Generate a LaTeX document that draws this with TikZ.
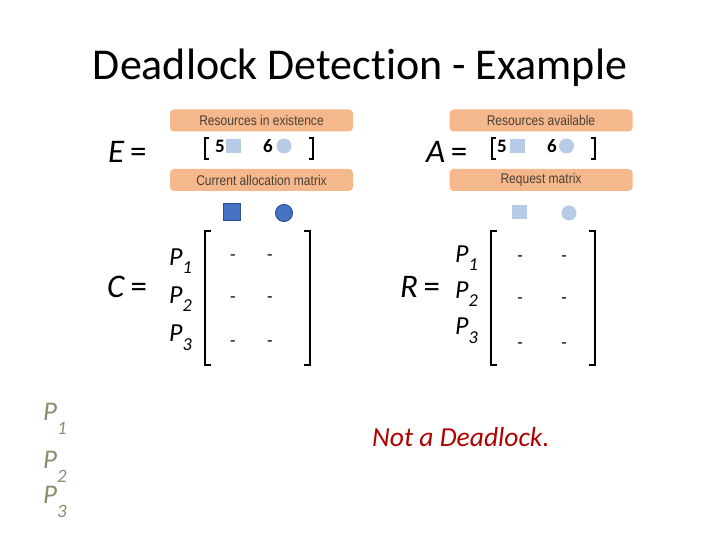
\documentclass[tikz,border=0pt]{standalone}
\usepackage{fontspec}
\setmainfont{Carlito}[Ligatures=NoCommon]
\newfontfamily\tagfont{Liberation Sans}[FakeStretch=0.86]
\usetikzlibrary{positioning,calc}
\definecolor{tagorange}{HTML}{F5B88C}
\definecolor{tagtext}{HTML}{4A3F35}
\definecolor{reslight}{HTML}{B7CAE6}
\definecolor{resdark}{HTML}{4472C4}
\definecolor{resedge}{HTML}{2F528F}
\definecolor{procgrey}{HTML}{8E8C6E}
\definecolor{verdict}{HTML}{B00000}
\tikzset{  tag/.style={fill=tagorange,rounded corners=4pt,minimum width=183pt,minimum height=22pt,inner sep=0pt,text=tagtext,font=\tagfont\fontsize{14}{14}\selectfont},
  eqn/.style={font=\fontsize{33}{33}\selectfont,inner sep=0pt},
  proc/.style={font=\fontsize{26}{26}\selectfont\itshape,inner sep=0pt},
  cnt/.style={font=\fontsize{19}{19}\selectfont\bfseries,inner sep=0pt},
  entry/.style={font=\fontsize{18}{18}\selectfont,inner sep=0pt},
  sqlight/.style={fill=reslight,minimum width=15pt,minimum height=14pt,inner sep=0pt},
  dotlight/.style={circle,fill=reslight,minimum size=15pt,inner sep=0pt},
  sqdark/.style={fill=resdark,draw=resedge,line width=1pt,minimum size=17pt,inner sep=0pt},
  dotdark/.style={circle,fill=resdark,draw=resedge,line width=1pt,minimum size=17pt,inner sep=0pt},
  brk/.style={line width=2pt} }
\newcommand{\Pn}[1]{P\textsubscript{\raisebox{-0.25em}{#1}}}
\newcommand{\Pg}[1]{P\textsubscript{\raisebox{-0.55em}{#1}}}

\begin{document}
\begin{tikzpicture}[x=1pt,y=-1pt]
    \useasboundingbox (0,0) rectangle (720,540);
    \node[font=\fontsize{44}{44}\selectfont,inner sep=0pt] (head) at (360,68) {Deadlock Detection - Example};
    % left half: E and C
    \node[tag] (exist) at (261.5,120.5) {Resources in existence};
    \node[tag] (alloc) at (261.5,180) {Current allocation matrix};
    \node[eqn,anchor=west] (E) at (108,152) {\textit{E}\,=};
    \draw[brk] (209,138) -- (205,138) -- (205,159) -- (209,159);
    \draw[brk] (309,138) -- (313,138) -- (313,159) -- (309,159);
    \node[cnt] (e5) at (220,146) {5};
    \node[sqlight] (esq) at (233.5,146) {};
    \node[cnt] (e6) at (268,146) {6};
    \node[dotlight] (edot) at (284,146) {};
    \node[sqdark] (csq) at (231.5,212.5) {};
    \node[dotdark] (cdot) at (284,213) {};
    \node[eqn,anchor=west] (C) at (107,287) {\textit{C}\,=};
    \node[proc,anchor=west] (cp1) at (169,261) {\Pn{1}};
    \node[proc,below=13pt of cp1.south west,anchor=north west] (cp2) {\Pn{2}};
    \node[proc,below=13pt of cp2.south west,anchor=north west] (cp3) {\Pn{3}};
    \draw[brk] (211,231) -- (205,231) -- (205,365) -- (211,365);
    \draw[brk] (304,231) -- (310,231) -- (310,365) -- (304,365);
    \foreach \r/\y in {1/258,2/300,3/344}{
      \node[entry] (c\r a) at (233,\y) {-};
      \node[entry] (c\r b) at (270,\y) {-};
    }
    % right half: A and R
    \node[tag] (avail) at (541,120.5) {Resources available};
    \node[tag] (req) at (541,180) {Request matrix};
    \node[eqn,anchor=west] (A) at (426,152) {\textit{A}\,=};
    \draw[brk] (496,138) -- (492,138) -- (492,159) -- (496,159);
    \draw[brk] (591,138) -- (595,138) -- (595,159) -- (591,159);
    \node[cnt] (a5) at (502,146) {5};
    \node[sqlight] (asq) at (517.5,146) {};
    \node[cnt] (a6) at (552,146) {6};
    \node[dotlight] (adot) at (566.5,146) {};
    \node[sqlight] (rsq) at (519,212.5) {};
    \node[dotlight] (rdot) at (569,213) {};
    \node[eqn,anchor=west] (R) at (400,287) {\textit{R}\,=};
    \node[proc,anchor=west] (rp1) at (455,258) {\Pn{1}};
    \node[proc,below=11pt of rp1.south west,anchor=north west] (rp2) {\Pn{2}};
    \node[proc,below=11pt of rp2.south west,anchor=north west] (rp3) {\Pn{3}};
    \draw[brk] (497,231) -- (491,231) -- (491,365) -- (497,365);
    \draw[brk] (589,231) -- (595,231) -- (595,365) -- (589,365);
    \foreach \r/\y in {1/259,2/301,3/346}{
      \node[entry] (r\r a) at (520,\y) {-};
      \node[entry] (r\r b) at (564,\y) {-};
    }
    % processes and verdict
    \node[proc,font=\fontsize{27}{27}\selectfont\itshape,text=procgrey,anchor=west] (g1) at (43,419) {\Pg{1}};
    \node[proc,font=\fontsize{27}{27}\selectfont\itshape,text=procgrey,anchor=west] (g2) at (43,467) {\Pg{2}};
    \node[proc,font=\fontsize{27}{27}\selectfont\itshape,text=procgrey,anchor=west] (g3) at (43,502) {\Pg{3}};
    \node[font=\fontsize{27.5}{27.5}\selectfont\itshape,text=verdict,anchor=west,inner sep=0pt] (verd) at (372,437) {Not a Deadlock.};
\end{tikzpicture}
\end{document}
